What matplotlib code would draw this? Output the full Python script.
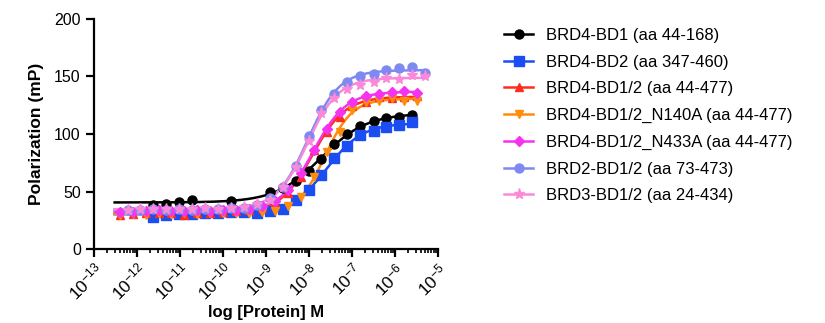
import numpy as np
import matplotlib
matplotlib.use("Agg")
import matplotlib.pyplot as plt
from matplotlib.ticker import LogLocator, FixedLocator, NullFormatter, LogFormatterMathtext

plt.rcParams['font.family'] = ['Liberation Sans', 'DejaVu Sans']
plt.rcParams['mathtext.default'] = 'regular'

# ---- data (log10 molar concentration, polarization mP) ----
log_conc_a = [-5.30, -5.60, -5.90, -6.20, -6.50, -6.81, -7.11, -7.41, -7.71, -8.01,
              -8.31, -8.61, -8.91, -9.21, -9.51, -9.82, -10.12, -10.42, -10.72, -11.02,
              -11.32, -11.62, -11.92, -12.22]
log_conc_b = [-5.48, -5.78, -6.08, -6.38, -6.68, -6.99, -7.29, -7.59, -7.89, -8.19,
              -8.49, -8.79, -9.09, -9.39, -9.69, -10.00, -10.30, -10.60, -10.90, -11.20,
              -11.50, -11.80, -12.10, -12.40]
nan = float('nan')

brd4_bd1 = [nan, 116.5, 114.5, 114, 111, 107, 100, 91, 78.5, 68,
            59, 53, 50, nan, nan, 42, nan, nan, 42.8, 41.3,
            39, 38.2, nan, nan]
brd4_bd2 = [nan, 110, 107.5, 106.5, 103, 99, 90, 79, 64.5, 51.7,
            42.4, 35, 32.8, 31, 32, 32.5, 31.5, 31, 30.5, 30.5,
            29.5, 28, nan, nan]
brd4_bd12 = [133, 132, 131.5, 132, 128, 124, 115, 102, 86, 63,
             49, 40, 36, 34, 33, 32, 31, 31.5, 30, 31,
             31.5, 31, 30.5, 30]
brd4_n140a = [129, 128.5, 131, 129, 127.5, 121, 102, 84, 63, 45,
              37, 33, 32, 31.5, 31, 31, 31.5, 30.5, 31, 30.5,
              31, 30, 30.5, 29.5]
brd4_n433a = [135.5, 137.5, 136.5, 135, 133, 128, 119, 104, 86, 66,
              51, 42, 37, 35, 34, 33.5, 33, 33.5, 33, 33,
              33.5, 33, 32.5, 32]
brd2_bd12 = [153, 158, 157.5, 156, 152.5, 150, 145, 135, 121, 98,
             72, 54, 44, 38.5, 36, 35.5, 34.5, 35, 34, 34.5,
             34, 34.5, 34, 33.5]
brd3_bd12 = [150.5, 151.5, 148, 149, 145.5, 143, 139, 131, 118.5, 94,
             71, 54, 43, 39, 36.5, 36, 35, 35.5, 34.5, 35,
             34.5, 35, 34.5, 34]

labels = ["BRD4-BD1 (aa 44-168)", "BRD4-BD2 (aa 347-460)", "BRD4-BD1/2 (aa 44-477)",
          "BRD4-BD1/2_N140A (aa 44-477)", "BRD4-BD1/2_N433A (aa 44-477)",
          "BRD2-BD1/2 (aa 73-473)", "BRD3-BD1/2 (aa 24-434)"]
series = [(log_conc_a, brd4_bd1), (log_conc_a, brd4_bd2), (log_conc_b, brd4_bd12),
          (log_conc_b, brd4_n140a), (log_conc_b, brd4_n433a), (log_conc_a, brd2_bd12),
          (log_conc_a, brd3_bd12)]
colors = ["#000000", "#1a4df2", "#ff2d1f", "#ff8c0a", "#f533ef", "#7f89f2", "#fb88d8"]
markers = ["o", "s", "^", "v", "D", "o", "*"]
msizes = [6.5, 6.5, 6, 6, 5, 6.5, 8]


def fit4pl(lx, y):
    lx = np.asarray(lx, float)
    y = np.asarray(y, float)
    m = ~np.isnan(y)
    lx, y = lx[m], y[m]
    hs = np.arange(0.5, 2.51, 0.02)
    es = np.arange(-10.0, -6.0, 0.01)
    H, E = np.meshgrid(hs, es, indexing='ij')
    H = H.ravel()[:, None]
    E = E.ravel()[:, None]
    s = 1.0 / (1.0 + 10 ** ((E - lx[None, :]) * H))
    a = 1 - s
    saa = (a * a).sum(1); sab = (a * s).sum(1); sbb = (s * s).sum(1)
    say = (a * y).sum(1); sby = (s * y).sum(1)
    det = saa * sbb - sab ** 2
    bot = (say * sbb - sby * sab) / det
    top = (saa * sby - sab * say) / det
    pred = bot[:, None] * a + top[:, None] * s
    sse = ((pred - y[None, :]) ** 2).sum(1)
    i = np.argmin(sse)
    return bot[i], top[i], E[i, 0], H[i, 0]


fig = plt.figure(figsize=(8.25, 3.23), dpi=100)
ax = fig.add_axes([94 / 825, 1 - 249 / 323, 344 / 825, 230 / 323])

xmin_all = -12.52
for (lx, y), lab, c, mk, ms in zip(series, labels, colors, markers, msizes):
    b, t, e, h = fit4pl(lx, y)
    lxa = np.asarray(lx)
    ya = np.asarray(y, float)
    xx = np.linspace(xmin_all, lxa[~np.isnan(ya)].max(), 300)
    yy = b + (t - b) / (1 + 10 ** ((e - xx) * h))
    ax.plot(10 ** xx, yy, color=c, lw=1.8, zorder=2)
    ax.plot(10 ** lxa, ya, ls='none', marker=mk, ms=ms, color=c, mec=c, zorder=3)
    ax.plot([], [], color=c, lw=1.8, marker=mk, ms=ms, mec=c, label=lab)

ax.set_xscale('log')
ax.set_xlim(1e-13, 1e-5)
ax.set_ylim(0, 200)
ax.set_yticks([0, 50, 100, 150, 200])
ax.xaxis.set_major_locator(FixedLocator([10.0 ** k for k in range(-13, -4)]))
ax.xaxis.set_major_formatter(LogFormatterMathtext())
ax.xaxis.set_minor_locator(LogLocator(base=10, subs=np.arange(2, 10), numticks=100))
ax.xaxis.set_minor_formatter(NullFormatter())

for sp in ['top', 'right']:
    ax.spines[sp].set_visible(False)
for sp in ['left', 'bottom']:
    ax.spines[sp].set_linewidth(1.6)
ax.tick_params(axis='y', which='major', direction='out', length=6, width=1.6, labelsize=11.5)
ax.tick_params(axis='x', which='major', direction='out', length=6, width=1.6, labelsize=12.5, pad=2)
ax.tick_params(axis='x', which='minor', direction='out', length=3, width=1.2)
for lbl in ax.get_xticklabels():
    lbl.set_rotation(45)
    lbl.set_ha('right')
    lbl.set_va('top')
    lbl.set_rotation_mode('anchor')

ax.set_ylabel("Polarization (mP)", fontsize=12.5, fontweight='bold', labelpad=7)
ax.set_xlabel("log [Protein] M", fontsize=12, fontweight='bold', labelpad=1)

fig.legend(loc='upper left', bbox_to_anchor=(504 / 825, 1 - 28 / 323), frameon=False,
           fontsize=12, handlelength=1.75, handletextpad=0.75, labelspacing=0.7,
           borderpad=0, borderaxespad=0)

fig.savefig("out.png", dpi=100)
